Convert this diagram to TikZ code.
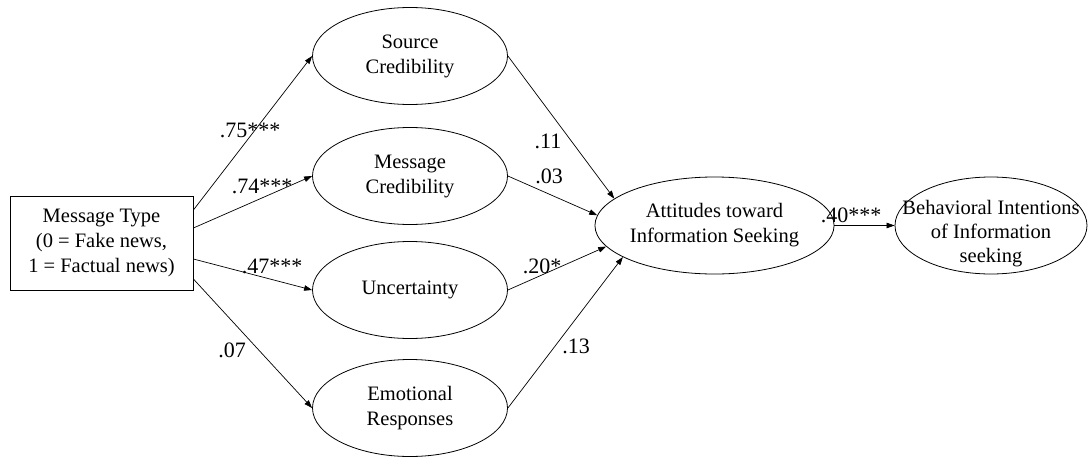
\documentclass[tikz,border=0pt]{standalone}
\usepackage{fontspec}
\setmainfont{Liberation Serif}
\usetikzlibrary{shapes.geometric,arrows.meta,calc}
\begin{document}
\begin{tikzpicture}[x=1pt,y=-1pt,
  font=\fontsize{20.5}{25}\selectfont,
  ell/.style={draw,ellipse,minimum width=195pt,minimum height=97pt,inner sep=0pt,align=center,line width=0.8pt},
  boxnode/.style={draw,rectangle,minimum width=183pt,minimum height=94pt,align=center,inner sep=0pt,line width=0.8pt},
  conn/.style={-{Triangle[length=8pt,width=5.5pt]},line width=0.7pt},
  lab/.style={font=\fontsize{22}{26}\selectfont,inner sep=0pt}]
\useasboundingbox (0,0) rectangle (1089,458);
% nodes
\node[boxnode] (mt) at (101.5,243) {Message Type\\(0 = Fake news,\\1 = Factual news)};
\node[ell] (sc) at (410,56) {Source\\Credibility};
\node[ell] (mc) at (410,176) {Message\\Credibility};
\node[ell] (un) at (410,290) {Uncertainty};
\node[ell] (em) at (410,408) {Emotional\\Responses};
\node[ell] (att) at (714.5,225.5) {Attitudes toward\\Information Seeking};
\node[ell,minimum width=192pt] (bi) at (991,225.5) {};
\node[align=center,inner sep=0pt,font=\fontsize{20.5}{24}\selectfont] (bitext) at (991,234) {Behavioral Intentions\\of Information\\seeking};
% start points on the box
\coordinate (s1) at ($(mt.east)+(0,-33)$);
\coordinate (s2) at ($(mt.east)+(0,-15)$);
\coordinate (s3) at ($(mt.east)+(0,16)$);
\coordinate (s4) at ($(mt.east)+(0,36)$);
% connectors
\draw[conn] (s1) -- (sc.west);
\draw[conn] (s2) -- (mc.west);
\draw[conn] (s3) -- (un.west);
\draw[conn] (s4) -- (em.west);
\draw[conn] (sc.east) -- (att.165);
\draw[conn] (mc.east) -- (att.175);
\draw[conn] (un.east) -- (att.191);
\draw[conn] (em.east) -- (att.199);
\draw[conn] (att.east) -- (bi.west);
% labels
\node[lab] (l1) at (250,130) {.75***};
\node[lab] (l2) at (262,186) {.74***};
\node[lab] (l3) at (272,266) {.47***};
\node[lab] (l4) at (232,350) {.07};
\node[lab] (l5) at (548,141) {.11};
\node[lab] (l6) at (549,176) {.03};
\node[lab] (l7) at (542,266) {.20*};
\node[lab] (l8) at (576,346) {.13};
\node[lab] (l9) at (851,215) {.40***};
\end{tikzpicture}
\end{document}
